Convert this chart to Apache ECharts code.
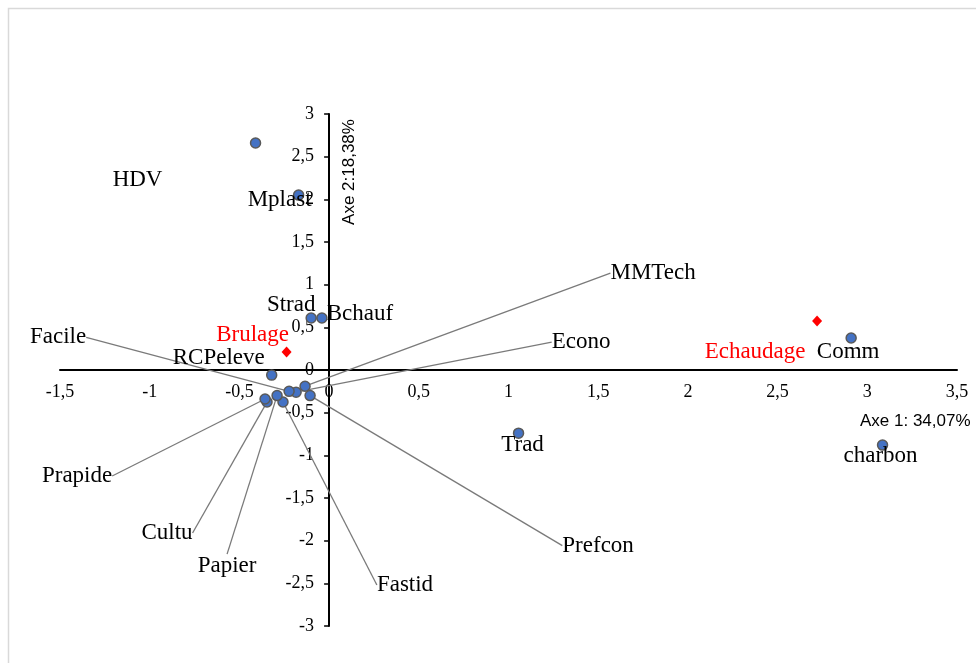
<!DOCTYPE html>
<html>
<head>
<meta charset="utf-8">
<script src="https://cdn.jsdelivr.net/npm/echarts@6/dist/echarts.min.js"></script>
<style>
  html, body { margin: 0; padding: 0; background: #fff; }
  #chart { width: 976px; height: 663px; }
</style>
</head>
<body>
<div id="chart"></div>
<script>
// Individuals and variables projected on the first factorial plane (blue dots)
const pointNames = ['HDV', 'Mplast', 'Strad', 'Bchauf', 'RCPeleve', 'Comm', 'charbon', 'Trad',
                    'MMTech', 'Econo', 'Facile', 'Prefcon', 'Fastid', 'Papier', 'Cultu', 'Prapide'];
const pointX = [-0.41, -0.17, -0.10, -0.04, -0.32, 2.91, 3.085, 1.056,
                -0.134, -0.184, -0.223, -0.106, -0.257, -0.29, -0.346, -0.357];
const pointY = [2.66, 2.05, 0.61, 0.61, -0.06, 0.375, -0.88, -0.74,
                -0.19, -0.26, -0.25, -0.30, -0.375, -0.30, -0.375, -0.34];

// Supplementary modalities (red diamonds)
const groupNames = ['Brulage', 'Echaudage'];
const groupX = [-0.237, 2.72];
const groupY = [0.21, 0.575];

// Axis ranges
const xMin = -1.5, xMax = 3.5, xStep = 0.5;
const yMin = -3, yMax = 3, yStep = 0.5;

// Label placement: pixel shift of each label centre from its dot, and whether a leader line is drawn
const labelShift = {
  HDV: [-118, 37, false], Mplast: [-19, 5, false], Strad: [-20, -13, false], Bchauf: [38, -4, false],
  RCPeleve: [-53, -17, false], Comm: [-3, 14, false], charbon: [-2, 11, false], Trad: [4, 12, false],
  MMTech: [348, -113, true], Econo: [285, -50, true], Facile: [-231, -54, true], Prefcon: [288, 150, true],
  Fastid: [122, 183, true], Papier: [-50, 170, true], Cultu: [-100, 131, true], Prapide: [-188, 77, true],
  Brulage: [-34, -17, false], Echaudage: [-62, 31, false]
};

const W = 976, H = 663;
const grid = { left: 60, right: 19, top: 114, bottom: 37 };
const plotW = W - grid.left - grid.right;
const plotH = H - grid.top - grid.bottom;
// Axes cross at the origin: shift each axis inward from the grid edge to the zero line
const yAxisShift = -plotW * (0 - xMin) / (xMax - xMin);
const xAxisShift = -plotH * (0 - yMin) / (yMax - yMin);

const serif = '"Liberation Serif", "Times New Roman", serif';
const sans = '"Liberation Sans", Arial, sans-serif';
const comma = v => String(v).replace('.', ',');

function buildData(names, xs, ys) {
  return names.map((n, i) => ({
    name: n,
    value: [xs[i], ys[i]],
    labelLine: { show: labelShift[n][2] }
  }));
}
function layoutFor(names) {
  return params => {
    const s = labelShift[names[params.dataIndex]];
    return { dx: s[0], dy: s[1] };
  };
}

const chart = echarts.init(document.getElementById('chart'), null, { renderer: 'canvas' });
chart.setOption({
  animation: false,
  backgroundColor: '#fff',
  grid: Object.assign({ containLabel: false, outerBoundsMode: 'none' }, grid),
  xAxis: {
    type: 'value', min: xMin, max: xMax, interval: xStep,
    position: 'bottom', offset: xAxisShift,
    axisLine: { onZero: false, lineStyle: { color: '#000', width: 2 } },
    axisTick: { show: false },
    splitLine: { show: false },
    axisLabel: { color: '#000', fontFamily: serif, fontSize: 18, margin: 13, formatter: comma }
  },
  yAxis: {
    type: 'value', min: yMin, max: yMax, interval: yStep,
    position: 'left', offset: yAxisShift,
    axisLine: { onZero: false, lineStyle: { color: '#000', width: 2 } },
    axisTick: { show: true, inside: false, length: 5, lineStyle: { color: '#000', width: 1.5 } },
    splitLine: { show: false },
    axisLabel: { color: '#000', fontFamily: serif, fontSize: 18, margin: 15, formatter: comma }
  },
  graphic: [
    { type: 'rect', x: 8.5, y: 8.5, shape: { x: 0, y: 0, width: 1000, height: 700 },
      style: { fill: 'none', stroke: '#d9d9d9', lineWidth: 1.5 }, silent: true, z: -10 },
    { type: 'text', x: 349, y: 172, rotation: Math.PI / 2,
      style: { text: 'Axe 2:18,38%', font: '17px ' + sans, fill: '#000', align: 'center', verticalAlign: 'middle' } },
    { type: 'text', x: 860, y: 421,
      style: { text: 'Axe 1: 34,07%', font: '17px ' + sans, fill: '#000', align: 'left', verticalAlign: 'middle' } }
  ],
  series: [
    {
      name: 'Points',
      type: 'scatter',
      symbol: 'circle',
      symbolSize: 10,
      itemStyle: { color: '#4472C4', borderColor: '#595959', borderWidth: 1.5, opacity: 1 },
      label: { show: true, position: 'inside', formatter: '{b}', color: '#000', fontFamily: serif, fontSize: 23 },
      labelLine: { show: true, lineStyle: { color: '#7a7a7a', width: 1.3 } },
      labelLayout: layoutFor(pointNames),
      data: buildData(pointNames, pointX, pointY),
      z: 3
    },
    {
      name: 'Modalites',
      type: 'scatter',
      symbol: 'diamond',
      symbolSize: [10, 11],
      itemStyle: { color: '#FF0000', opacity: 1 },
      label: { show: true, position: 'inside', formatter: '{b}', color: '#FF0000', fontFamily: serif, fontSize: 23 },
      labelLayout: layoutFor(groupNames),
      data: buildData(groupNames, groupX, groupY),
      z: 3
    }
  ]
});
</script>
</body>
</html>
